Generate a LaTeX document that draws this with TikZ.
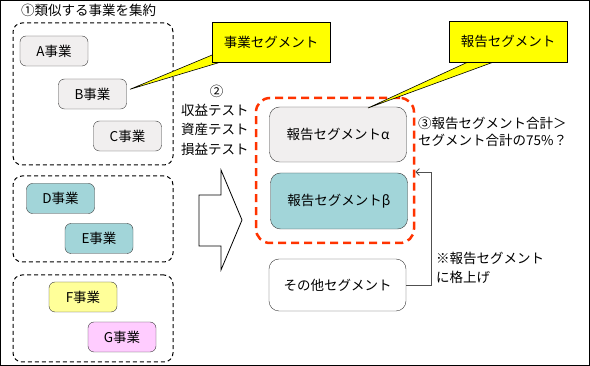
\documentclass[tikz,border=0pt]{standalone}
\usepackage{fontspec}
\setmainfont{Noto Sans CJK JP}
\usetikzlibrary{arrows.meta}
\usepackage{xcolor}
\definecolor{boxline}{HTML}{3A3A3A}
\definecolor{plaingray}{HTML}{F1EFEF}
\definecolor{segteal}{HTML}{A2D5D9}
\definecolor{softyellow}{HTML}{FFFF99}
\definecolor{softpink}{HTML}{FFCCFF}
\definecolor{calloutyellow}{HTML}{FFFF00}
\definecolor{reportred}{HTML}{FF3300}
\definecolor{linkgray}{HTML}{505050}
\newcommand{\jpfont}{\fontsize{13.5}{17}\selectfont}

\begin{document}
\begin{tikzpicture}[x=1pt, y=-1pt, font=\jpfont,
    bizbox/.style={draw=boxline, rounded corners=6pt, minimum width=68pt,
                   minimum height=30pt, inner sep=0pt},
    groupbox/.style={draw=black, line width=1pt, dash pattern=on 4pt off 3pt,
                     rounded corners=9pt, minimum width=160pt, inner sep=0pt},
    segbox/.style={draw=boxline, rounded corners=10pt, minimum width=137pt, inner sep=0pt},
    callout/.style={draw=black, fill=calloutyellow, minimum width=118pt,
                    minimum height=40pt, inner sep=0pt},
    wedge/.style={fill=calloutyellow, draw=black, line width=0.6pt},
    plaintext/.style={inner sep=0pt, align=left}]
    \useasboundingbox (0,0) rectangle (590,366);
    \draw[line width=1pt] (0.5,0.5) rectangle (589.5,365.5);
    % STEP 1
    \node[plaintext, anchor=west] (steponetitle) at (21,10) {①類似する事業を集約};
    \node[groupbox, minimum height=142pt] (groupone) at (93,94) {};
    \node[groupbox, minimum height=86pt] (grouptwo) at (93,219) {};
    \node[groupbox, minimum height=87pt] (groupthree) at (93,318.5) {};
    \node[bizbox, fill=plaingray] (bizA) at (54,51) {A事業};
    \node[bizbox, fill=plaingray] (bizB) at (92.5,94) {B事業};
    \node[bizbox, fill=plaingray] (bizC) at (127.5,136) {C事業};
    \node[bizbox, fill=segteal] (bizD) at (60.5,198.5) {D事業};
    \node[bizbox, fill=segteal] (bizE) at (99,238.5) {E事業};
    \node[bizbox, fill=softyellow] (bizF) at (83,297) {F事業};
    \node[bizbox, fill=softpink] (bizG) at (122,337) {G事業};
    % CALLOUT: BUSINESS SEGMENT
    \coordinate (tipbiz) at (130,89.3);
    \fill[wedge] (216,53.4) -- (tipbiz) -- (232,58.7) -- cycle;
    \node[callout] (bizcallout) at (271,42) {事業セグメント};
    % STEP 2
    \node[plaintext] (steptwo) at (216.5,91) {②};
    \node[plaintext, anchor=west, font=\fontsize{13.5}{19.5}\selectfont] (tests) at (181,129.5)
      {収益テスト\\資産テスト\\損益テスト};
    \draw[draw=black, fill=white, line width=0.8pt]
      (199,195) -- (221,195) -- (221,170) -- (242,220) -- (221,270) -- (221,246) -- (199,246) -- cycle;
    % STEP 3
    \node[draw=reportred, line width=2.5pt, dash pattern=on 8pt off 5pt, rounded corners=14pt,
          minimum width=158pt, minimum height=145pt, inner sep=0pt] (reportgroup) at (335,170.5) {};
    \node[segbox, fill=plaingray, minimum height=55pt] (segalpha) at (338,134.5) {報告セグメントα};
    \node[segbox, fill=segteal, minimum height=56pt] (segbeta) at (339,201) {報告セグメントβ};
    \node[segbox, fill=white, minimum height=52pt] (segother) at (337.5,285) {その他セグメント};
    \node[plaintext, anchor=west] (stepthree) at (418,131.5) {③報告セグメント合計＞\\セグメント合計の75\%？};
    % CALLOUT: REPORT SEGMENT
    \coordinate (tipreport) at (368,108);
    \fill[wedge] (476.7,58) -- (tipreport) -- (504.6,58) -- cycle;
    \node[callout, minimum height=41pt] (reportcallout) at (508,41.5) {報告セグメント};
    % PROMOTION
    \coordinate (bend) at (431,172);
    \draw[linkgray, line width=0.9pt, -{Straight Barb[length=3.5pt, width=7pt]}]
      (segother.east) -| (bend) -- (reportgroup.east |- bend);
    \node[plaintext, anchor=west, font=\fontsize{13.5}{19}\selectfont] (promote) at (436,267.5)
      {※報告セグメント\\に格上げ};
\end{tikzpicture}
\end{document}
